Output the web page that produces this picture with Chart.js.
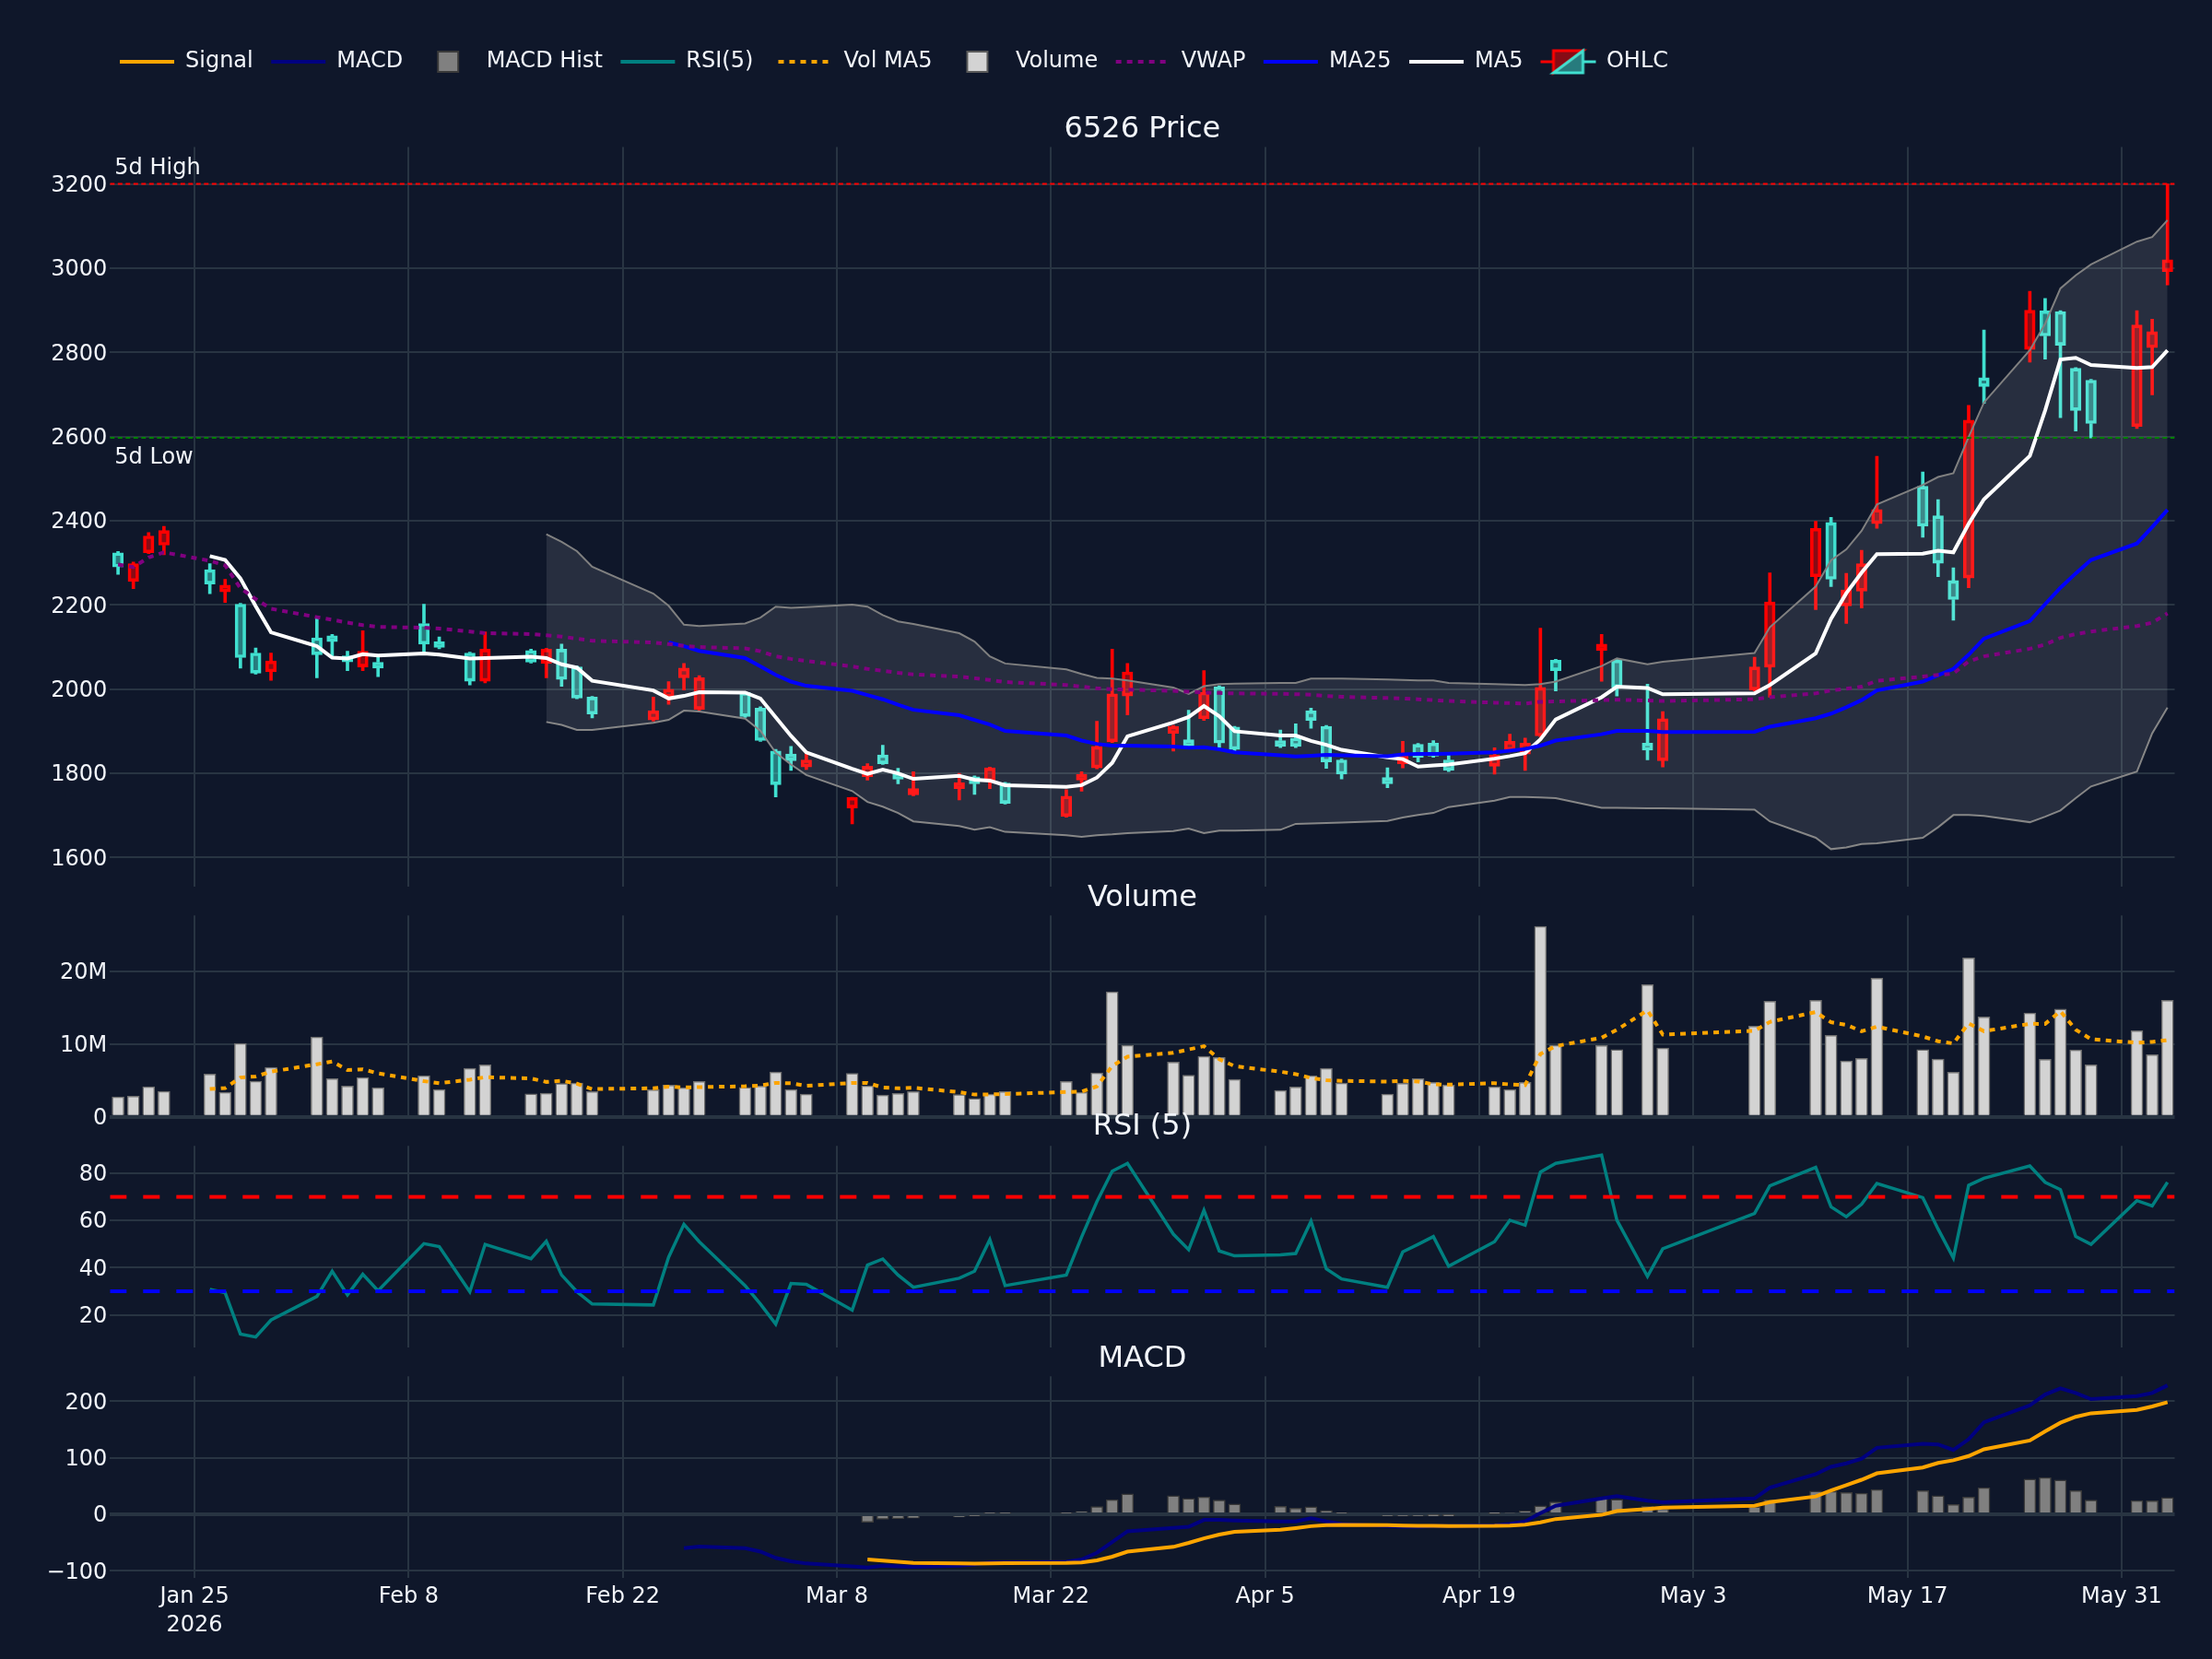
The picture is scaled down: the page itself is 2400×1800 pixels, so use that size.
<!DOCTYPE html>
<html lang="en">
<head>
<meta charset="utf-8">
<title>6526 Price</title>
<script src="https://cdn.jsdelivr.net/npm/chart.js@4.4.1/dist/chart.umd.min.js"></script>
<style>
  html, body { margin: 0; padding: 0; background: #0f172a; }
  body { width: 2400px; height: 1800px; position: relative; overflow: hidden; }
  canvas { position: absolute; left: 0; }
</style>
</head>
<body>
<canvas id="cLegend" width="2400" height="220" style="top:0px"></canvas>
<canvas id="cPrice" width="2400" height="883" style="top:99px"></canvas>
<canvas id="cVol" width="2400" height="299" style="top:933px"></canvas>
<canvas id="cRsi" width="2400" height="299" style="top:1183px"></canvas>
<canvas id="cMacd" width="2400" height="367" style="top:1433px"></canvas>
<script>
const N = null;

// ---------------- DATA ----------------
const dates = [
  '2026-01-20','2026-01-21','2026-01-22','2026-01-23','2026-01-26','2026-01-27','2026-01-28','2026-01-29','2026-01-30',
  '2026-02-02','2026-02-03','2026-02-04','2026-02-05','2026-02-06','2026-02-09','2026-02-10','2026-02-12','2026-02-13',
  '2026-02-16','2026-02-17','2026-02-18','2026-02-19','2026-02-20','2026-02-24','2026-02-25','2026-02-26','2026-02-27',
  '2026-03-02','2026-03-03','2026-03-04','2026-03-05','2026-03-06','2026-03-09','2026-03-10','2026-03-11','2026-03-12','2026-03-13',
  '2026-03-16','2026-03-17','2026-03-18','2026-03-19','2026-03-23','2026-03-24','2026-03-25','2026-03-26','2026-03-27',
  '2026-03-30','2026-03-31','2026-04-01','2026-04-02','2026-04-03','2026-04-06','2026-04-07','2026-04-08','2026-04-09','2026-04-10',
  '2026-04-13','2026-04-14','2026-04-15','2026-04-16','2026-04-17','2026-04-20','2026-04-21','2026-04-22','2026-04-23','2026-04-24',
  '2026-04-27','2026-04-28','2026-04-30','2026-05-01','2026-05-07','2026-05-08','2026-05-11','2026-05-12','2026-05-13','2026-05-14','2026-05-15',
  '2026-05-18','2026-05-19','2026-05-20','2026-05-21','2026-05-22','2026-05-25','2026-05-26','2026-05-27','2026-05-28','2026-05-29',
  '2026-06-01','2026-06-02','2026-06-03'
];

const open = [
  2324,2256,2324,2342,2284,2231,2202,2086,2041,2122,2127,2079,2053,2064,2156,2113,2086,2019,2092,2061,2095,2053,1981,
  1927,1981,2027,1952,1992,1955,1853,1846,1815,1718,1792,1844,1800,1749,1764,1792,1781,1777,1698,1784,1813,1875,1984,
  1895,1880,1930,2006,1910,1878,1884,1949,1912,1832,1790,1823,1869,1872,1832,1817,1855,1846,1889,2069,2092,2069,1872,1830,
  1998,2052,2267,2396,2198,2233,2393,2482,2412,2258,2264,2740,2807,2899,2897,2762,2734,2624,2811,2992
];
const high = [
  2327,2302,2372,2387,2298,2261,2204,2098,2086,2170,2130,2090,2139,2082,2202,2124,2088,2136,2095,2097,2107,2055,1983,
  1981,2018,2061,2032,1994,1958,1857,1864,1846,1743,1823,1867,1812,1804,1800,1794,1815,1779,1761,1804,1924,2095,2061,
  1914,1950,2044,2008,1912,1903,1918,1955,1914,1834,1813,1876,1871,1878,1846,1861,1893,1884,2145,2071,2130,2071,2012,1947,
  2076,2276,2399,2408,2275,2330,2553,2516,2450,2288,2674,2853,2945,2928,2899,2764,2736,2899,2879,3200
];
const low = [
  2273,2239,2322,2319,2227,2206,2050,2036,2021,2027,2078,2044,2044,2030,2084,2096,2010,2015,2062,2027,2007,1977,1932,
  1924,1964,1998,1950,1933,1876,1744,1807,1809,1680,1784,1821,1775,1747,1737,1750,1764,1727,1696,1758,1811,1873,1939,
  1853,1862,1926,1861,1853,1861,1861,1907,1812,1787,1766,1813,1827,1838,1804,1798,1851,1807,1887,1996,2019,1984,1832,1815,
  1996,1981,2189,2244,2156,2193,2382,2361,2267,2164,2241,2679,2777,2784,2645,2613,2597,2619,2699,2960
];
const close = [
  2290,2298,2364,2377,2250,2247,2075,2038,2067,2082,2113,2065,2090,2050,2107,2099,2019,2095,2064,2095,2023,1979,1941,
  1949,2000,2050,2027,1935,1878,1773,1830,1832,1743,1817,1823,1786,1764,1778,1775,1813,1729,1746,1798,1864,1989,2041,
  1912,1864,1993,1872,1857,1864,1864,1926,1827,1798,1775,1844,1838,1841,1807,1844,1876,1872,2004,2044,2107,2004,1855,1930,
  2053,2207,2382,2261,2236,2298,2427,2387,2299,2213,2639,2719,2900,2839,2817,2662,2631,2865,2849,3020
];
// volume in millions of shares
const volumeM = [
  2.74,2.83,4.13,3.50,5.86,3.38,10.08,4.89,6.79,10.97,5.23,4.22,5.40,4.01,5.65,3.76,6.67,7.13,3.16,3.25,
  4.56,4.64,3.46,3.71,4.35,4.01,4.85,4.05,4.22,6.16,3.76,3.12,5.95,4.26,3.00,3.21,3.46,3.04,2.53,3.12,
  3.46,4.85,3.38,6.03,17.17,9.83,7.51,5.70,8.31,8.14,5.15,3.63,4.09,5.65,6.67,4.64,3.12,4.60,5.23,4.73,
  4.39,4.13,3.76,4.73,26.16,9.83,9.79,9.24,18.14,9.45,12.45,15.86,15.99,11.18,7.68,8.02,19.03,9.24,7.93,6.12,
  21.81,13.71,14.26,7.89,14.81,9.20,7.13,11.81,8.52,15.99
];
const volMA5 = [
  N,N,N,N,
  3.81,3.94,5.39,5.54,6.20,7.22,7.59,6.42,6.52,5.97,
  4.90,4.61,5.10,5.44,5.27,4.79,4.95,4.55,3.81,3.92,
  4.14,4.03,4.08,4.19,4.30,4.66,4.61,4.26,4.64,4.65,
  4.02,3.91,3.98,3.39,3.05,3.07,3.12,3.40,3.47,4.17,
  6.98,8.25,8.78,9.25,9.70,7.90,6.96,6.19,5.86,5.33,
  5.04,4.94,4.83,4.94,4.85,4.46,4.41,4.62,4.45,4.35,
  8.63,9.72,10.85,11.95,14.63,11.29,11.81,13.03,14.38,12.99,
  12.63,11.75,12.38,11.03,10.38,10.07,12.83,11.76,12.77,12.76,
  14.50,11.97,10.66,10.17,10.29,10.53
];
const ma5 = [
  N,N,N,N,
  2316,2307,2263,2197,2135,2102,2075,2073,2083,2080,
  2085,2082,2073,2074,2077,2074,2059,2051,2020,1997,
  1978,1984,1993,1992,1978,1933,1889,1850,1811,1799,
  1809,1800,1787,1794,1785,1783,1772,1768,1772,1790,
  1825,1888,1921,1934,1960,1936,1900,1890,1890,1877,
  1868,1856,1838,1834,1816,1819,1821,1835,1841,1848,
  1881,1928,1981,2006,2003,1988,1990,2010,2085,2167,
  2228,2277,2321,2322,2329,2325,2393,2451,2554,2662,
  2783,2787,2770,2763,2765,2805
];
const ma25 = [
  N,N,N,N,N,N,N,N,N,N,N,N,N,N,N,N,N,N,N,N,N,N,N,N,
  2111,2102,2091,2074,2054,2034,2018,2008,1996,1986,
  1976,1963,1951,1938,1927,1916,1901,1890,1878,1870,
  1866,1866,1864,1861,1862,1857,1850,1843,1840,1842,
  1844,1843,1841,1845,1846,1846,1847,1850,1854,1858,
  1866,1878,1893,1901,1901,1898,1899,1911,1931,1942,
  1957,1974,1997,2018,2033,2048,2082,2120,2162,2202,
  2241,2275,2307,2346,2385,2426
];
const vwap = [
  2296,2290,2313,2325,2305,2294,2240,2214,2191,2171,
  2165,2158,2152,2148,2146,2144,2137,2133,2131,2128,
  2125,2120,2115,2111,2107,2103,2100,2097,2090,2078,
  2072,2067,2054,2048,2044,2039,2035,2030,2026,2022,
  2017,2010,2006,2002,2000,1999,1996,1994,1992,1991,
  1990,1989,1988,1987,1984,1982,1979,1978,1976,1974,
  1972,1968,1967,1966,1970,1971,1974,1975,1973,1972,
  1976,1981,1990,1997,2001,2006,2020,2030,2034,2037,
  2066,2078,2096,2106,2122,2131,2137,2150,2158,2180
];
const bbUpper = [
  N,N,N,N,N,N,N,N,N,N,N,N,N,N,N,N,N,N,N,
  2368,2350,2328,2291,2227,2198,2153,2150,2156,2170,
  2196,2193,2195,2201,2196,2176,2161,2155,2133,2113,
  2078,2061,2047,2036,2027,2025,2021,2004,1989,2007,
  2012,2013,2015,2015,2025,2025,2025,2023,2022,2021,
  2021,2015,2012,2011,2010,2012,2018,2055,2073,2059,
  2065,2086,2147,2244,2306,2332,2376,2439,2485,2504,
  2513,2599,2681,2805,2868,2952,2983,3009,3063,3074,3114
];
const bbLower = [
  N,N,N,N,N,N,N,N,N,N,N,N,N,N,N,N,N,N,N,
  1922,1915,1903,1903,1920,1927,1949,1947,1930,1901,
  1849,1821,1796,1758,1732,1721,1706,1686,1675,1666,
  1672,1661,1653,1649,1653,1655,1658,1663,1669,1658,
  1664,1664,1666,1680,1681,1682,1683,1687,1695,1701,
  1706,1720,1735,1744,1744,1743,1741,1718,1718,1717,
  1717,1714,1686,1647,1620,1624,1632,1634,1647,1672,
  1701,1701,1699,1684,1697,1712,1741,1769,1804,1895,1956
];
const rsi5 = [
  N,N,N,N,
  30.8,29.4,11.9,10.6,17.8,27.8,38.5,28.5,37.2,30.2,
  50.2,48.9,29.8,49.9,43.8,51.2,36.9,29.8,24.6,24.2,
  44.5,58.4,51.0,32.4,24.6,16.1,33.3,32.9,22.0,41.1,
  43.7,36.9,31.7,35.5,38.5,51.9,32.4,36.9,53.0,68.0,
  80.9,84.2,54.2,47.6,64.3,47.1,45.0,45.4,46.0,59.7,
  39.5,35.2,31.7,46.7,49.9,53.2,40.6,51.0,60.1,58.0,
  80.5,84.2,87.7,60.1,36.3,48.0,63.0,74.7,82.5,65.8,
  61.6,66.9,75.7,69.7,56.4,44.1,74.9,77.9,83.1,76.2,
  73.1,53.2,49.9,68.4,66.2,76.2
];
const macd = [
  N,N,N,N,N,N,N,N,N,N,N,N,N,N,N,N,N,N,N,N,N,N,N,N,N,
  -60,-57,-60,-66,-77,-83,-87,-92,-94,-91,
  -92,-93,-91,-89,-85,-85,-84,-80,-68,-49,
  -30,-24,-22,-10,-10,-11,-12.5,-12.5,-7,-12.5,
  -17,-21,-22,-22,-21,-21,-19.6,-17,-12.5,2,
  15,28,32,24,21,28,47,71,84,90,
  98.5,117.6,124.7,123.6,113.8,132.8,162.8,192.7,211.8,222.6,
  214.5,203.6,209,214.5,228
];
const signal = [
  N,N,N,N,N,N,N,N,N,N,N,N,N,N,N,N,N,N,N,N,N,N,N,N,N,N,N,N,N,N,N,N,N,
  -80,-82,-84,-86,-87,-87.4,-87,-86.6,-86,-85,
  -81.5,-75,-66,-57.6,-50.5,-42.5,-36,-31,-27.4,-24.4,
  -21,-19.3,-18.8,-19.3,-19.9,-20.4,-20.5,-20.7,-20.5,-19.8,
  -18.3,-14.2,-8.4,-1,5.6,9.3,11.7,15,21.5,31.5,
  42,51.7,61.1,72.4,82.8,90.9,95.5,103,115,130.5,
  146.8,161.9,172.4,178.6,184.7,190.7,198.2
];
const macdHist = [
  N,N,N,N,N,N,N,N,N,N,N,N,N,N,N,N,N,N,N,N,N,N,N,N,N,N,N,N,N,N,N,N,N,
  -14,-9,-7.6,-7,-4.4,-1.6,1.6,1.6,2,5,
  13.6,26,36,33,28,31,25,18,14,11,
  13.5,6.6,2,-1.8,-2,-1.6,-0.6,-0.4,0.9,2.9,
  5.8,15,22,28,26.5,14,9.5,13.5,25.5,41,
  40.5,38.7,37.4,44,41.9,32.7,17.5,30.5,47,62,
  65,60.7,42,25,24.5,23.8,29.5
];

const levelNames = ['5d High', '5d Low'];
const levelValues = [3200, 2597];
const rsiLevels = [70, 30];

const xOrigin = '2026-01-25';
const tickDates = ['2026-01-25','2026-02-08','2026-02-22','2026-03-08','2026-03-22','2026-04-05','2026-04-19','2026-05-03','2026-05-17','2026-05-31'];
const tickLabels = [['Jan 25','2026'],'Feb 8','Feb 22','Mar 8','Mar 22','Apr 5','Apr 19','May 3','May 17','May 31'];
const priceTicks = [1600,1800,2000,2200,2400,2600,2800,3000,3200];
const volTicks = [0,10,20];
const volTickLabels = ['0','10M','20M'];
const rsiTicks = [20,40,60,80];
const macdTicks = [-100,0,100,200];

const panelTitles = ['6526 Price','Volume','RSI (5)','MACD'];

// ---------------- STYLE ----------------
const TEXT = '#f2f5fa', GRID = '#283442';
const RED = '#ff0000', TEAL = '#40e0d0';
const RED_FILL = 'rgba(255,0,0,0.5)', TEAL_FILL = 'rgba(64,224,208,0.5)';
const FONT = 'DejaVu Sans';
const PLOT_LEFT = 119.3, PAD_RIGHT = 40.5;
const X_MIN = -5.53, X_MAX = 129.47;

Chart.defaults.font.family = FONT;
Chart.defaults.font.size = 24;
Chart.defaults.color = TEXT;
Chart.defaults.animation = false;
Chart.defaults.plugins.legend.display = false;
Chart.defaults.plugins.tooltip.enabled = false;
Chart.defaults.elements.point.radius = 0;
Chart.defaults.elements.line.tension = 0;

const dayOf = s => Math.round((Date.parse(s + 'T00:00:00Z') - Date.parse(xOrigin + 'T00:00:00Z')) / 86400000);
const dayNum = dates.map(dayOf);
const tickDays = tickDates.map(dayOf);
const pts = arr => arr.map((v, i) => v === null ? null : {x: dayNum[i], y: v}).filter(p => p !== null);
const hline = v => [{x: X_MIN, y: v}, {x: X_MAX, y: v}];

function xScale(showLabels, height) {
  return {
    type: 'linear', min: X_MIN, max: X_MAX, offset: false,
    grid: {color: GRID, lineWidth: 2, drawTicks: false, offset: false},
    border: {display: false},
    afterBuildTicks: ax => { ax.ticks = tickDays.map(v => ({value: v})); },
    afterFit: ax => { ax.height = height; },
    ticks: {display: showLabels, padding: 5, maxRotation: 0, minRotation: 0, autoSkip: false,
            font: {size: 24, lineHeight: 1.3}, callback: (v, i) => tickLabels[i]}
  };
}
function yScale(min, max, vals, fmt, zeroLine) {
  return {
    type: 'linear', min, max, position: 'left',
    grid: {color: GRID, drawTicks: false,
           lineWidth: c => (zeroLine && c.tick && c.tick.value === 0) ? 4 : 2},
    border: {display: false},
    afterBuildTicks: ax => { ax.ticks = vals.map(v => ({value: v})); },
    afterFit: ax => { ax.width = PLOT_LEFT; },
    ticks: {padding: 3, labelOffset: 2, autoSkip: false, callback: (v, i) => fmt(v, i)}
  };
}

// panel title centred over the plot area
const panelTitlePlugin = {
  id: 'panelTitle',
  afterDraw(chart, args, opts) {
    if (!opts || !opts.text) return;
    const {ctx, chartArea} = chart;
    ctx.save();
    ctx.font = '32px "' + FONT + '"'; ctx.fillStyle = TEXT;
    ctx.textAlign = 'center'; ctx.textBaseline = 'middle';
    ctx.fillText(opts.text, (chartArea.left + chartArea.right) / 2, chartArea.top - opts.gap);
    ctx.restore();
  }
};
Chart.register(panelTitlePlugin);

// ---------------- LEGEND ----------------
function boxIcon(fill, stroke) {
  const c = document.createElement('canvas'); c.width = 28; c.height = 28;
  const g = c.getContext('2d');
  g.fillStyle = fill; g.fillRect(2, 2, 24, 24);
  g.strokeStyle = stroke; g.lineWidth = 2; g.strokeRect(3, 3, 22, 22);
  return c;
}
function candleIcon() {
  const c = document.createElement('canvas'); c.width = 64; c.height = 32;
  const g = c.getContext('2d'); const cx = 32, cy = 16;
  g.lineWidth = 3;
  g.strokeStyle = RED; g.fillStyle = RED_FILL;
  g.beginPath(); g.moveTo(cx - 30, cy); g.lineTo(cx - 16, cy); g.stroke();
  g.beginPath(); g.moveTo(cx - 16, cy + 12); g.lineTo(cx - 16, cy - 12); g.lineTo(cx + 16, cy - 12); g.closePath(); g.fill(); g.stroke();
  g.strokeStyle = TEAL; g.fillStyle = TEAL_FILL;
  g.beginPath(); g.moveTo(cx + 30, cy); g.lineTo(cx + 16, cy); g.stroke();
  g.beginPath(); g.moveTo(cx + 16, cy - 12); g.lineTo(cx + 16, cy + 12); g.lineTo(cx - 16, cy + 12); g.closePath(); g.fill(); g.stroke();
  return c;
}
const legendSpec = [
  {text: 'Signal', color: '#ffa500', dash: []},
  {text: 'MACD', color: '#000080', dash: []},
  {text: 'MACD Hist', icon: boxIcon('#808080', '#3a3a3a')},
  {text: 'RSI(5) ', color: '#008080', dash: []},
  {text: 'Vol MA5', color: '#ffa500', dash: [6, 6]},
  {text: 'Volume', icon: boxIcon('#d3d3d3', '#5a5a5a')},
  {text: 'VWAP', color: '#800080', dash: [6, 6]},
  {text: 'MA25', color: '#0000ff', dash: []},
  {text: 'MA5', color: '#ffffff', dash: []},
  {text: 'OHLC', icon: candleIcon()}
];
new Chart(document.getElementById('cLegend'), {
  type: 'line',
  data: {datasets: []},
  options: {
    responsive: false, devicePixelRatio: 1,
    layout: {padding: {left: 110.5, top: 35.5}},
    scales: {x: {display: false}, y: {display: false}},
    plugins: {
      legend: {
        display: true, position: 'top', align: 'start', maxHeight: 120,
        labels: {
          usePointStyle: true, pointStyleWidth: 59, boxHeight: 24, padding: 19.5, color: TEXT,
          font: {size: 24, family: FONT},
          generateLabels: () => legendSpec.map(s => s.icon ? {
            text: s.text, pointStyle: s.icon, fillStyle: 'transparent', strokeStyle: 'transparent', lineWidth: 0, hidden: false, fontColor: TEXT
          } : {
            text: s.text, pointStyle: 'line', fillStyle: s.color, strokeStyle: s.color, lineWidth: 4, lineDash: s.dash, lineCap: 'butt', hidden: false, fontColor: TEXT
          })
        }
      }
    }
  }
});

// ---------------- PRICE ----------------
const isUp = close.map((c, i) => c >= open[i]);
const lineCols = isUp.map(u => u ? RED : TEAL);
const fillCols = isUp.map(u => u ? RED_FILL : TEAL_FILL);
const bodies = dayNum.map((x, i) => ({x, y: [open[i], close[i]]}));
const wickHi = dayNum.map((x, i) => ({x, y: [Math.max(open[i], close[i]), high[i]]}));
const wickLo = dayNum.map((x, i) => ({x, y: [low[i], Math.min(open[i], close[i])]}));

const levelLabelPlugin = {
  id: 'levelLabels',
  afterDatasetsDraw(chart) {
    const {ctx, chartArea, scales} = chart;
    ctx.save();
    ctx.font = '24px "' + FONT + '"'; ctx.fillStyle = TEXT;
    ctx.textAlign = 'left'; ctx.textBaseline = 'middle';
    ctx.fillText(levelNames[0], chartArea.left + 5, scales.y.getPixelForValue(levelValues[0]) - 16.5);
    ctx.fillText(levelNames[1], chartArea.left + 5, scales.y.getPixelForValue(levelValues[1]) + 22);
    ctx.restore();
  }
};

new Chart(document.getElementById('cPrice'), {
  type: 'bar',
  data: {datasets: [
    {type: 'line', label: levelNames[0], data: hline(levelValues[0]), borderColor: RED, borderWidth: 2, borderDash: [5, 3.5], order: 0},
    {type: 'line', label: levelNames[1], data: hline(levelValues[1]), borderColor: '#008000', borderWidth: 2, borderDash: [5, 3.5], order: 0},
    {type: 'line', label: 'VWAP', data: pts(vwap), borderColor: '#800080', borderWidth: 4, borderDash: [6, 6], order: 1},
    {type: 'line', label: 'MA25', data: pts(ma25), borderColor: '#0000ff', borderWidth: 4, order: 2},
    {type: 'line', label: 'MA5', data: pts(ma5), borderColor: '#ffffff', borderWidth: 4, order: 3},
    {type: 'line', label: 'BB Upper', data: pts(bbUpper), borderColor: '#808080', borderWidth: 2, fill: '+1', backgroundColor: 'rgba(255,255,255,0.1)', order: 4},
    {type: 'line', label: 'BB Lower', data: pts(bbLower), borderColor: '#808080', borderWidth: 2, fill: false, order: 5},
    {type: 'bar', label: 'OHLC', data: bodies, backgroundColor: fillCols, borderColor: lineCols, borderWidth: 3, borderSkipped: false, barThickness: 11.5, grouped: false, order: 6},
    {type: 'bar', label: 'wickHi', data: wickHi, backgroundColor: lineCols, borderWidth: 0, barThickness: 3, grouped: false, order: 7},
    {type: 'bar', label: 'wickLo', data: wickLo, backgroundColor: lineCols, borderWidth: 0, barThickness: 3, grouped: false, order: 7}
  ]},
  options: {
    responsive: false, devicePixelRatio: 1,
    layout: {padding: {left: 0, right: PAD_RIGHT, top: 60.4, bottom: 20}},
    scales: {x: xScale(false, 0), y: yScale(1531, 3288, priceTicks, v => String(v), false)},
    plugins: {panelTitle: {text: panelTitles[0], gap: 19}}
  },
  plugins: [levelLabelPlugin]
});

// ---------------- VOLUME ----------------
new Chart(document.getElementById('cVol'), {
  type: 'bar',
  data: {datasets: [
    {type: 'line', label: 'Vol MA5', data: pts(volMA5), borderColor: '#ffa500', borderWidth: 4, borderDash: [6, 6], order: 1},
    {type: 'bar', label: 'Volume', data: pts(volumeM), backgroundColor: '#d3d3d3', borderColor: '#6e6e6e', borderWidth: 1.5, barThickness: 13, grouped: false, order: 2}
  ]},
  options: {
    responsive: false, devicePixelRatio: 1,
    layout: {padding: {left: 0, right: PAD_RIGHT, top: 60.3, bottom: 20.3}},
    scales: {x: xScale(false, 0), y: yScale(0, 27.65, volTicks, (v) => volTickLabels[volTicks.indexOf(v)], true)},
    plugins: {panelTitle: {text: panelTitles[1], gap: 19}}
  }
});

// ---------------- RSI ----------------
new Chart(document.getElementById('cRsi'), {
  type: 'line',
  data: {datasets: [
    {label: 'Overbought', data: hline(rsiLevels[0]), borderColor: '#ff0000', borderWidth: 4, borderDash: [18, 18], order: 0},
    {label: 'Oversold', data: hline(rsiLevels[1]), borderColor: '#0000ff', borderWidth: 4, borderDash: [18, 18], order: 0},
    {label: 'RSI(5)', data: pts(rsi5), borderColor: '#008080', borderWidth: 3.5, order: 1}
  ]},
  options: {
    responsive: false, devicePixelRatio: 1,
    layout: {padding: {left: 0, right: PAD_RIGHT, top: 60.3, bottom: 20.3}},
    scales: {x: xScale(false, 0), y: yScale(6.3, 91.6, rsiTicks, v => String(v), false)},
    plugins: {panelTitle: {text: panelTitles[2], gap: 21}}
  }
});

// ---------------- MACD ----------------
new Chart(document.getElementById('cMacd'), {
  type: 'bar',
  data: {datasets: [
    {type: 'line', label: 'Signal', data: pts(signal), borderColor: '#ffa500', borderWidth: 4, order: 1},
    {type: 'line', label: 'MACD', data: pts(macd), borderColor: '#000080', borderWidth: 4, order: 2},
    {type: 'bar', label: 'MACD Hist', data: pts(macdHist), backgroundColor: '#808080', borderColor: '#3a3a3a', borderWidth: 1.5, barThickness: 13, grouped: false, order: 3}
  ]},
  options: {
    responsive: false, devicePixelRatio: 1,
    layout: {padding: {left: 0, right: PAD_RIGHT, top: 60.3, bottom: 0}},
    scales: {x: xScale(true, 88.3), y: yScale(-112, 244, macdTicks, v => (v < 0 ? '\u2212' + Math.abs(v) : String(v)), true)},
    plugins: {panelTitle: {text: panelTitles[3], gap: 18.5}}
  }
});
</script>
</body>
</html>
